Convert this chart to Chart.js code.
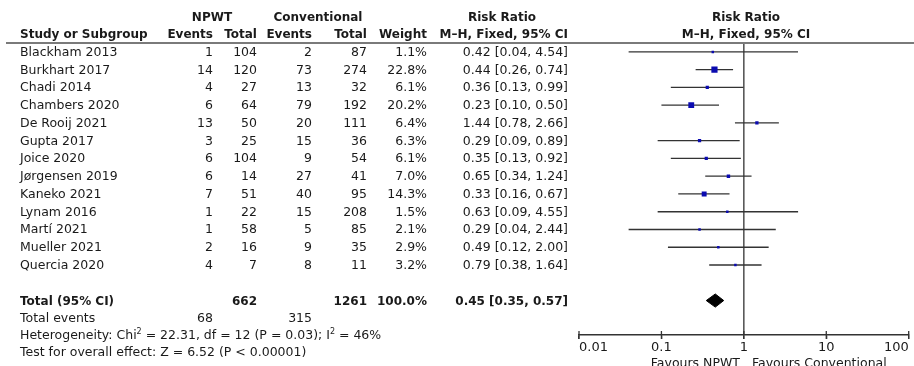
<!DOCTYPE html>
<html>
<head>
<meta charset="utf-8">
<script src="https://cdn.jsdelivr.net/npm/chart.js@4.4.0/dist/chart.umd.min.js"></script>
<style>
  html, body { margin: 0; padding: 0; background: #fff; }
  #wrap { position: relative; width: 914px; height: 366px; overflow: hidden;
          font-family: "DejaVu Sans", sans-serif; font-size: 12.5px; color: #1a1a1a; }
  #plot { position: absolute; left: 0; top: 0; }
  .t { position: absolute; white-space: nowrap; line-height: 14px; height: 14px; margin-top: -7px; }
  .b { font-weight: bold; font-size: 12px; }
  .c { transform: translateX(-50%); }
  #rule { position: absolute; left: 6px; right: 0; top: 42px; height: 2px; background: #7a7a7a; }
  sup { font-size: 8px; line-height: 0; vertical-align: 5px; }
</style>
</head>
<body>
<div id="wrap">
  <canvas id="plot" width="914" height="366"></canvas>
  <div id="rule"></div>
</div>
<script>
const studies = ['Blackham 2013','Burkhart 2017','Chadi 2014','Chambers 2020','De Rooij 2021','Gupta 2017',
  'Joice 2020','Jørgensen 2019','Kaneko 2021','Lynam 2016','Martí 2021','Mueller 2021','Quercia 2020'];
const npwtEvents = [1, 14, 4, 6, 13, 3, 6, 6, 7, 1, 1, 2, 4];
const npwtTotal  = [104, 120, 27, 64, 50, 25, 104, 14, 51, 22, 58, 16, 7];
const convEvents = [2, 73, 13, 79, 20, 15, 9, 27, 40, 15, 5, 9, 8];
const convTotal  = [87, 274, 32, 192, 111, 36, 54, 41, 95, 208, 85, 35, 11];
const weights    = [1.1, 22.8, 6.1, 20.2, 6.4, 6.3, 6.1, 7.0, 14.3, 1.5, 2.1, 2.9, 3.2];
const rr         = [0.42, 0.44, 0.36, 0.23, 1.44, 0.29, 0.35, 0.65, 0.33, 0.63, 0.29, 0.49, 0.79];
const ciLow      = [0.04, 0.26, 0.13, 0.10, 0.78, 0.09, 0.13, 0.34, 0.16, 0.09, 0.04, 0.12, 0.38];
const ciHigh     = [4.54, 0.74, 0.99, 0.50, 2.66, 0.89, 0.92, 1.24, 0.67, 4.55, 2.44, 2.00, 1.64];

const totalRR = 0.45, totalLow = 0.35, totalHigh = 0.57;
const totalNpwt = 662, totalConv = 1261, totalNpwtEv = 68, totalConvEv = 315;

const tickVals   = [0.01, 0.1, 1, 10, 100];
const tickLabels = ['0.01', '0.1', '1', '10', '100'];

const fmt2 = v => v.toFixed(2);
const ciText = (m, l, h) => fmt2(m) + ' [' + fmt2(l) + ', ' + fmt2(h) + ']';

const yMin = -0.5, yMax = 15.94, totalRow = 14;
const lineCol = '#333';

const datasets = [];
studies.forEach((s, i) => {
  datasets.push({
    data: [{x: ciLow[i], y: i}, {x: ciHigh[i], y: i}],
    showLine: true, borderColor: lineCol, borderWidth: 1.3, pointRadius: 0, order: 2
  });
});
// line of no effect
datasets.push({
  data: [{x: 1, y: yMin}, {x: 1, y: yMax}],
  showLine: true, borderColor: lineCol, borderWidth: 1.3, pointRadius: 0, order: 2
});
// study estimates, square size from weight (drawn on top of the lines)
datasets.push({
  data: rr.map((v, i) => ({x: v, y: i})),
  pointStyle: 'rect',
  pointRadius: weights.map(w => Math.max(2.5, 1.3 * Math.sqrt(w)) / 1.414),
  backgroundColor: '#0b0bb0', borderColor: '#0b0bb0', borderWidth: 0, order: 0
});
// pooled diamond
datasets.push({
  data: [{x: totalLow, y: totalRow}, {x: totalRR, y: totalRow - 0.37}, {x: totalHigh, y: totalRow},
         {x: totalRR, y: totalRow + 0.37}, {x: totalLow, y: totalRow}],
  showLine: true, fill: 'shape', backgroundColor: '#000', borderColor: '#000', borderWidth: 1, pointRadius: 0, order: 0
});
// upper half of axis ticks
datasets.push({
  data: tickVals.map(v => ({x: v, y: yMax})),
  pointStyle: 'line', rotation: 90, pointRadius: 4, borderColor: lineCol, borderWidth: 1.3, clip: false, order: 1
});

const chart = new Chart(document.getElementById('plot'), {
  type: 'scatter',
  data: { datasets },
  options: {
    responsive: false, animation: false, events: [],
    layout: { padding: { left: 579, right: 1, top: 43, bottom: 0 } },
    plugins: { legend: { display: false }, tooltip: { enabled: false } },
    scales: {
      x: {
        type: 'logarithmic', min: 0.01, max: 100,
        afterBuildTicks: s => { s.ticks = tickVals.map(v => ({ value: v })); },
        afterFit: s => { s.height = 31; },
        grid: { drawOnChartArea: false, drawTicks: true, tickLength: 4, color: lineCol, lineWidth: 1.3 },
        border: { color: lineCol, width: 1.5 },
        ticks: {
          align: 'inner', padding: 1, color: '#1a1a1a', autoSkip: false, maxRotation: 0,
          font: { family: 'DejaVu Sans', size: 13 },
          callback: (v, i) => tickLabels[i]
        }
      },
      y: { type: 'linear', display: false, reverse: true, min: yMin, max: yMax }
    }
  }
});

const wrap = document.getElementById('wrap');
function txt(html, x, y, align, bold) {
  const d = document.createElement('div');
  d.className = 't' + (bold ? ' b' : '') + (align === 'c' ? ' c' : '');
  d.innerHTML = html;
  d.style.top = y + 'px';
  if (align === 'r') d.style.right = (914 - x) + 'px';
  else d.style.left = x + 'px';
  wrap.appendChild(d);
}

const colEv1 = 213, colTot1 = 257, colEv2 = 312, colTot2 = 367, colWt = 427, colRR = 568;

// headers
txt('NPWT', 212, 17, 'c', true);
txt('Conventional', 318, 17, 'c', true);
txt('Risk Ratio', 502, 17, 'c', true);
txt('Risk Ratio', 746, 17, 'c', true);
txt('Study or Subgroup', 20, 34, 'l', true);
txt('Events', colEv1, 34, 'r', true);
txt('Total', colTot1, 34, 'r', true);
txt('Events', colEv2, 34, 'r', true);
txt('Total', colTot2, 34, 'r', true);
txt('Weight', colWt, 34, 'r', true);
txt('M–H, Fixed, 95% CI', colRR, 34, 'r', true);
txt('M–H, Fixed, 95% CI', 746, 34, 'c', true);

const ys = chart.scales.y;
studies.forEach((s, i) => {
  const y = ys.getPixelForValue(i);
  txt(s, 20, y, 'l');
  txt(npwtEvents[i], colEv1, y, 'r');
  txt(npwtTotal[i], colTot1, y, 'r');
  txt(convEvents[i], colEv2, y, 'r');
  txt(convTotal[i], colTot2, y, 'r');
  txt(weights[i].toFixed(1) + '%', colWt, y, 'r');
  txt(ciText(rr[i], ciLow[i], ciHigh[i]), colRR, y, 'r');
});

const yT = ys.getPixelForValue(totalRow);
txt('Total (95% CI)', 20, yT, 'l', true);
txt(totalNpwt, colTot1, yT, 'r', true);
txt(totalConv, colTot2, yT, 'r', true);
txt('100.0%', colWt, yT, 'r', true);
txt(ciText(totalRR, totalLow, totalHigh), colRR, yT, 'r', true);

txt('Total events', 20, 318, 'l');
txt(totalNpwtEv, colEv1, 318, 'r');
txt(totalConvEv, colEv2, 318, 'r');
txt('Heterogeneity: Chi<sup>2</sup> = 22.31, df = 12 (P = 0.03); I<sup>2</sup> = 46%', 20, 335, 'l');
txt('Test for overall effect: Z = 6.52 (P &lt; 0.00001)', 20, 352, 'l');

txt('Favours NPWT', 740, 363, 'r');
txt('Favours Conventional', 752, 363, 'l');
</script>
</body>
</html>
